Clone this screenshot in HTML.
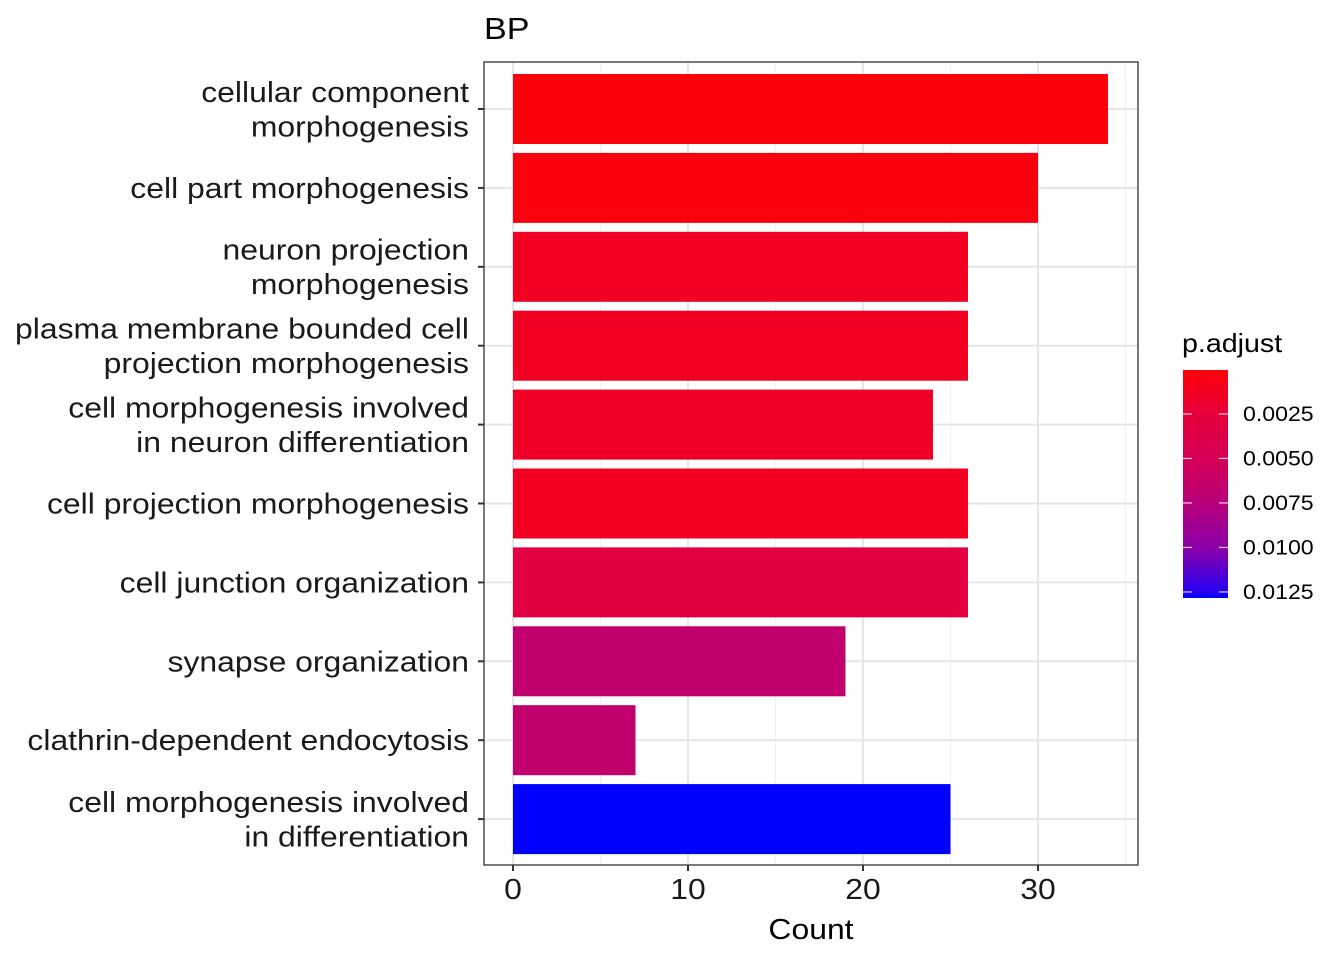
<!DOCTYPE html>
<html><head><meta charset="utf-8"><style>
body{margin:0;background:#fff}
svg text{font-family:"Liberation Sans",Arial,sans-serif}
</style></head><body>
<svg id="chart" width="1344" height="960">
<defs><linearGradient id="grad" x1="0" y1="0" x2="0" y2="1">
<stop offset="0" stop-color="#ff0008"/><stop offset="0.19" stop-color="#e6003a"/>
<stop offset="0.39" stop-color="#d40055"/><stop offset="0.58" stop-color="#b8007a"/>
<stop offset="0.78" stop-color="#8c00a8"/><stop offset="0.97" stop-color="#2800f0"/>
<stop offset="1" stop-color="#0000ff"/></linearGradient></defs>
<g id="grid"></g><g id="bars"></g><g id="axes"></g>
<text class="st" x="484" y="39" font-size="31">BP</text>
<text class="st" x="811" y="939" font-size="29" text-anchor="middle">Count</text>
<g>
<text class="st" x="1182" y="352" font-size="26">p.adjust</text>
<rect x="1183" y="370" width="45" height="228" fill="url(#grad)"/>
<g id="legticks"></g>
</g>
</svg>
<script>
const categories=["cellular component|morphogenesis","cell part morphogenesis","neuron projection|morphogenesis","plasma membrane bounded cell|projection morphogenesis","cell morphogenesis involved|in neuron differentiation","cell projection morphogenesis","cell junction organization","synapse organization","clathrin-dependent endocytosis","cell morphogenesis involved|in differentiation"];
const counts=[34,30,26,26,24,26,26,19,7,25];
const padj=[0.0001,0.0003,0.0014,0.0014,0.0015,0.0012,0.0030,0.0066,0.0066,0.01284];
const xTicks=[0,10,20,30];
const legendTicks=[0.0025,0.005,0.0075,0.01,0.0125];
const legendLabels=["0.0025","0.0050","0.0075","0.0100","0.0125"];
const NS="http://www.w3.org/2000/svg";
const L=484,R=1138,T=62,B=865;
const xS=v=>513+v*17.5;
const yS=i=>109+i*78.9;
const pMin=0.00003,pMax=0.01284;
const lyS=p=>370+(p-pMin)/(pMax-pMin)*228;
const stops=[[0,[255,0,8]],[0.19,[230,0,58]],[0.39,[212,0,85]],[0.58,[184,0,122]],[0.78,[140,0,168]],[0.97,[40,0,240]],[1,[0,0,255]]];
function col(p){let t=Math.max(0,Math.min(1,(p-pMin)/(pMax-pMin)));for(let k=1;k<stops.length;k++){if(t<=stops[k][0]){const a=stops[k-1],b=stops[k],f=(t-a[0])/(b[0]-a[0]);return 'rgb('+a[1].map((c,j)=>Math.round(c+(b[1][j]-c)*f)).join(',')+')';}}return 'rgb(0,0,255)';}
function el(tag,at,parent){const e=document.createElementNS(NS,tag);for(const k in at)e.setAttribute(k,at[k]);document.getElementById(parent).appendChild(e);return e;}
el('rect',{x:L,y:T,width:R-L,height:B-T,fill:'#fff'},'grid');
for(let v=5;v<=35;v+=10){const e=el('line',{x1:xS(v),x2:xS(v),y1:T,y2:B,stroke:'#f0f0f0','stroke-width':1},'grid');}
xTicks.forEach(v=>{const e=el('line',{x1:xS(v),x2:xS(v),y1:T,y2:B,stroke:'#e6e6e6','stroke-width':2},'grid');});
categories.forEach((c,i)=>{const e=el('line',{x1:L,x2:R,y1:yS(i),y2:yS(i),stroke:'#e6e6e6','stroke-width':2},'grid');});
categories.forEach((c,i)=>{
const r=el('rect',{x:xS(0),y:yS(i)-35,width:xS(counts[i])-xS(0),height:70,fill:col(padj[i])},'bars');


el('line',{x1:478,x2:484,y1:yS(i),y2:yS(i),stroke:'#333','stroke-width':2},'axes');
const lines=c.split('|');
lines.forEach((s,j)=>{const t=el('text',{class:'st',x:469,y:yS(i)+10+(j-(lines.length-1)/2)*34.5,'font-size':29,'text-anchor':'end',fill:'#1a1a1a'},'axes');t.textContent=s;

});
});
el('rect',{x:L,y:T,width:R-L,height:B-T,fill:'none',stroke:'#333','stroke-width':1.3},'axes');
xTicks.forEach(v=>{el('line',{x1:xS(v),x2:xS(v),y1:B,y2:B+6,stroke:'#333','stroke-width':2},'axes');
const t=el('text',{class:'st',x:xS(v),y:899,'font-size':29,'text-anchor':'middle',fill:'#1a1a1a'},'axes');t.textContent=v;

});
legendTicks.forEach((p,i)=>{const y=lyS(p);
el('line',{x1:1183,x2:1192,y1:y,y2:y,stroke:'#fff','stroke-width':1.2,opacity:0.8},'legticks');
el('line',{x1:1219,x2:1228,y1:y,y2:y,stroke:'#fff','stroke-width':1.2,opacity:0.8},'legticks');
const t=el('text',{class:'st',x:1243,y:y+7,'font-size':21,fill:'#000'},'legticks');t.textContent=legendLabels[i];

});
document.querySelectorAll('text.st').forEach(t=>{const w=t.getComputedTextLength();t.setAttribute('textLength',w*1.1);t.setAttribute('lengthAdjust','spacingAndGlyphs');});
</script>
</body></html>
